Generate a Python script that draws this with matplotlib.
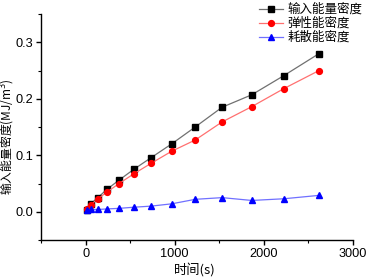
import matplotlib
matplotlib.use("Agg")
import matplotlib.pyplot as plt
from matplotlib.ticker import MultipleLocator

plt.rcParams['font.family'] = ['Liberation Sans', 'Noto Sans CJK SC', 'DejaVu Sans']

time = [11, 56, 138, 242, 376, 540, 738, 965, 1230, 1532, 1864, 2225, 2620]
input_energy = [0.003, 0.0135, 0.025, 0.040, 0.056, 0.075, 0.096, 0.120, 0.150, 0.185, 0.207, 0.241, 0.280]
elastic_energy = [0.005, 0.012, 0.023, 0.035, 0.050, 0.067, 0.086, 0.107, 0.127, 0.159, 0.186, 0.218, 0.250]
dissipated_energy = [0.003, 0.004, 0.004, 0.005, 0.006, 0.008, 0.010, 0.014, 0.022, 0.025, 0.020, 0.023, 0.029]

labels = ['输入能量密度', '弹性能密度', '耗散能密度']

fig = plt.figure(figsize=(3.68, 2.8), dpi=100)
ax = fig.add_axes([41/368, 1 - 240/280, (353 - 41)/368, (240 - 14)/280])

l1, = ax.plot(time, input_energy, color='#707070', lw=0.9, marker='s', ms=4.2,
              mfc='black', mec='black', label=labels[0])
l2, = ax.plot(time, elastic_energy, color='#ff7070', lw=0.9, marker='o', ms=4.2,
              mfc='red', mec='red', label=labels[1])
l3, = ax.plot(time, dissipated_energy, color='#7070ff', lw=0.9, marker='^', ms=4.5,
              mfc='blue', mec='blue', label=labels[2])

ax.set_xlim(-500, 3000)
ax.set_ylim(-0.05, 0.35)
ax.set_xticks([0, 1000, 2000, 3000])
ax.set_yticks([0.0, 0.1, 0.2, 0.3])
ax.set_yticklabels(['0.0', '0.1', '0.2', '0.3'])
ax.xaxis.set_minor_locator(MultipleLocator(500))
ax.yaxis.set_minor_locator(MultipleLocator(0.05))
ax.spines['top'].set_visible(False)
ax.spines['right'].set_visible(False)
for s in ['left', 'bottom']:
    ax.spines[s].set_linewidth(1.0)
ax.tick_params(which='major', direction='out', length=3.5, width=1.0, labelsize=9.2, pad=2)
ax.tick_params(which='minor', direction='out', length=2, width=0.8)

ax.set_xlabel('时间(s)', fontsize=9.5,
              family=['Noto Sans CJK SC', 'Liberation Sans'])
ax.xaxis.set_label_coords((195 - 41) / 312, -(271 - 240) / 226)
ax.set_ylabel('输入能量密度(MJ/m$^3$)', fontsize=8.5,
              family=['Noto Sans CJK SC', 'Liberation Sans'])
ax.yaxis.set_label_coords(-(41 - 8) / 312, (240 - 137) / 226)
ax.yaxis.label.set_va('center')
ax.xaxis.label.set_va('center')

leg = fig.legend(handles=[l1, l2, l3], labels=labels, loc='upper right',
                 bbox_to_anchor=(1.011, 1.025), frameon=False,
                 handlelength=1.9, handletextpad=0.35, labelspacing=0.08,
                 borderpad=0.3,
                 prop={'family': ['Noto Sans CJK SC'], 'size': 9})

fig.savefig('out.png', dpi=100)
